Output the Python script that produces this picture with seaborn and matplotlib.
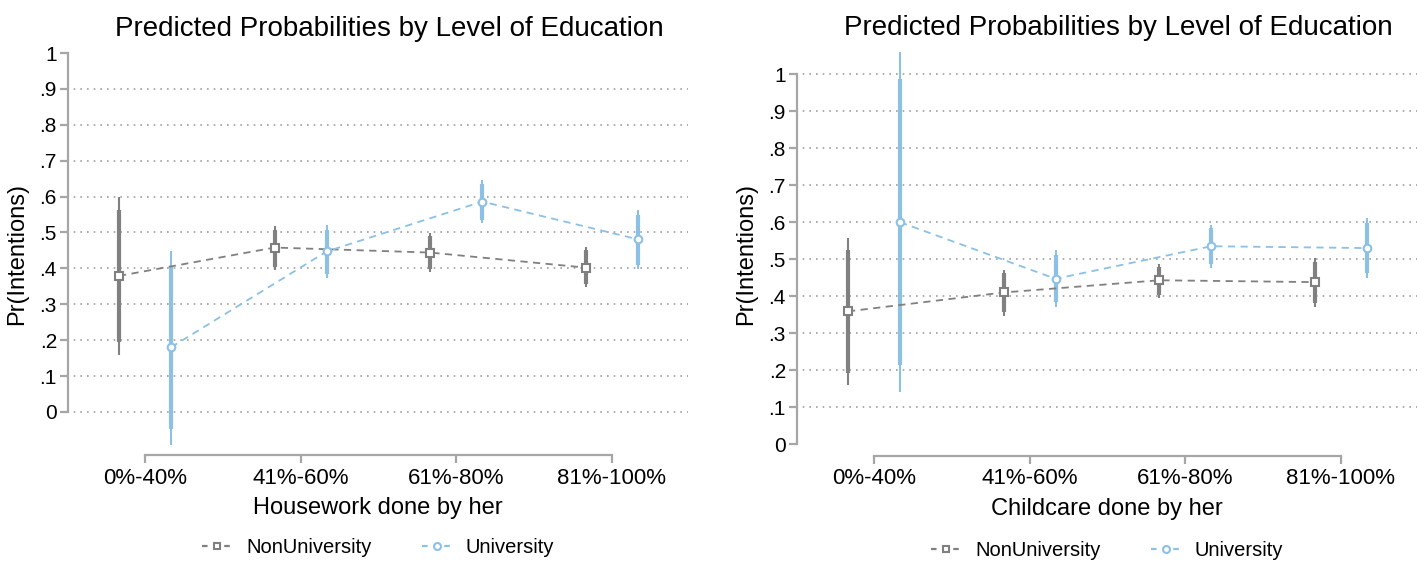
import numpy as np
import pandas as pd
import seaborn as sns
import matplotlib.pyplot as plt
from matplotlib.lines import Line2D

# categorias del eje x
categorias = ["0%-40%", "41%-60%", "61%-80%", "81%-100%"]
grupos = ["NonUniversity", "University"]

# Panel izquierdo: trabajo domestico
nonuni_hw = [0.379, 0.458, 0.444, 0.402]
nonuni_hw_lo95 = [0.159, 0.396, 0.389, 0.347]
nonuni_hw_hi95 = [0.600, 0.518, 0.499, 0.459]
nonuni_hw_lo90 = [0.196, 0.405, 0.398, 0.356]
nonuni_hw_hi90 = [0.563, 0.507, 0.490, 0.450]

uni_hw = [0.180, 0.447, 0.586, 0.481]
uni_hw_lo95 = [-0.092, 0.372, 0.527, 0.397]
uni_hw_hi95 = [0.448, 0.521, 0.646, 0.563]
uni_hw_lo90 = [-0.047, 0.385, 0.536, 0.410]
uni_hw_hi90 = [0.407, 0.508, 0.636, 0.550]

# Panel derecho: cuidado de hijos
nonuni_cc = [0.359, 0.410, 0.443, 0.438]
nonuni_cc_lo95 = [0.160, 0.347, 0.395, 0.371]
nonuni_cc_hi95 = [0.557, 0.472, 0.488, 0.503]
nonuni_cc_lo90 = [0.192, 0.357, 0.403, 0.382]
nonuni_cc_hi90 = [0.526, 0.462, 0.480, 0.492]

uni_cc = [0.600, 0.447, 0.535, 0.530]
uni_cc_lo95 = [0.142, 0.372, 0.476, 0.449]
uni_cc_hi95 = [1.060, 0.524, 0.593, 0.611]
uni_cc_lo90 = [0.215, 0.385, 0.486, 0.462]
uni_cc_hi90 = [0.986, 0.511, 0.583, 0.598]

ytick_labels = ["0", ".1", ".2", ".3", ".4", ".5", ".6", ".7", ".8", ".9", "1"]

colores = {"NonUniversity": "#808080", "University": "#8cc0e4"}
marcadores = {"NonUniversity": "s", "University": "o"}
desplazamiento = {"NonUniversity": -0.167, "University": 0.167}
eje_color = "#a6a6a6"

sns.set_style("white")
plt.rcParams['font.family'] = ['Liberation Sans', 'DejaVu Sans']
plt.rcParams['text.color'] = 'black'
plt.rcParams['axes.labelcolor'] = 'black'


def armar_df(est, lo95, hi95, lo90, hi90):
    filas = []
    for g in grupos:
        for i, c in enumerate(categorias):
            filas.append({"grupo": g, "cat": c, "x": i + desplazamiento[g],
                          "est": est[g][i], "lo95": lo95[g][i], "hi95": hi95[g][i],
                          "lo90": lo90[g][i], "hi90": hi90[g][i]})
    return pd.DataFrame(filas)


def grafica(ax, df, xlabel, ylim, grid_vals, leg_y):
    # lineas de cuadricula punteadas
    ax.hlines(grid_vals, -0.5, 3.5, colors="#a0a0a0", linestyles=(0, (1, 3)),
              linewidth=1.2, zorder=0)
    for g in grupos:
        d = df[df["grupo"] == g]
        ax.vlines(d["x"], d["lo95"], d["hi95"], colors=colores[g], linewidth=1.5, zorder=2)
        ax.vlines(d["x"], d["lo90"], d["hi90"], colors=colores[g], linewidth=3.0, zorder=2)
        sns.lineplot(data=d, x="x", y="est", ax=ax, color=colores[g], linestyle=(0, (4, 3)),
                     linewidth=1.3, marker=marcadores[g], markersize=5.5,
                     markerfacecolor="white", markeredgecolor=colores[g], markeredgewidth=1.5,
                     zorder=3, legend=False)
    ax.set_xlim(-0.495, 3.49)
    ax.set_ylim(*ylim)
    ax.set_xticks(range(4))
    ax.set_xticklabels(categorias, fontsize=16)
    ax.set_yticks(np.arange(0, 1.01, 0.1))
    ax.set_yticklabels(ytick_labels, fontsize=15)
    ax.spines["top"].set_visible(False)
    ax.spines["right"].set_visible(False)
    for s in ["left", "bottom"]:
        ax.spines[s].set_color(eje_color)
        ax.spines[s].set_linewidth(1.6)
    ax.spines["left"].set_bounds(0, 1)
    ax.spines["bottom"].set_bounds(0, 3)
    ax.tick_params(axis="both", colors=eje_color, labelcolor="black", length=6, width=1.6,
                   direction="out", left=True, bottom=True)
    ax.tick_params(axis="y", pad=2)
    ax.tick_params(axis="x", pad=3)
    ax.set_xlabel(xlabel, fontsize=17, labelpad=6)
    ax.set_ylabel("Pr(Intentions)", fontsize=17, labelpad=8)
    ax.set_title("Predicted Probabilities by Level of Education", fontsize=20, x=0.518, pad=12)
    manijas = [Line2D([], [], color=colores[g], linestyle=(0, (2.5, 2.5)), linewidth=1.6,
                      marker=marcadores[g], markersize=5, markerfacecolor="white",
                      markeredgecolor=colores[g], markeredgewidth=1.5) for g in grupos]
    ax.legend(manijas, grupos, loc="upper center", bbox_to_anchor=(0.5, leg_y), ncol=2,
              frameon=False, fontsize=14.5, handlelength=1.5, columnspacing=2.5,
              handletextpad=0.7)


fig = plt.figure(figsize=(14.17, 5.62), dpi=100)
ax1 = fig.add_axes([68 / 1417, (562 - 455) / 562, 620 / 1417, 402 / 562])
ax2 = fig.add_axes([797 / 1417, (562 - 456) / 562, 620 / 1417, 404 / 562])

df_hw = armar_df({"NonUniversity": nonuni_hw, "University": uni_hw},
                 {"NonUniversity": nonuni_hw_lo95, "University": uni_hw_lo95},
                 {"NonUniversity": nonuni_hw_hi95, "University": uni_hw_hi95},
                 {"NonUniversity": nonuni_hw_lo90, "University": uni_hw_lo90},
                 {"NonUniversity": nonuni_hw_hi90, "University": uni_hw_hi90})
df_cc = armar_df({"NonUniversity": nonuni_cc, "University": uni_cc},
                 {"NonUniversity": nonuni_cc_lo95, "University": uni_cc_lo95},
                 {"NonUniversity": nonuni_cc_hi95, "University": uni_cc_hi95},
                 {"NonUniversity": nonuni_cc_lo90, "University": uni_cc_lo90},
                 {"NonUniversity": nonuni_cc_hi90, "University": uni_cc_hi90})

grafica(ax1, df_hw, "Housework done by her", (-0.12, 1.0), np.arange(0, 0.91, 0.1), -0.162)
grafica(ax2, df_cc, "Childcare done by her", (-0.032, 1.06), np.arange(0.1, 1.01, 0.1), -0.165)

fig.savefig("out.png", dpi=100)
